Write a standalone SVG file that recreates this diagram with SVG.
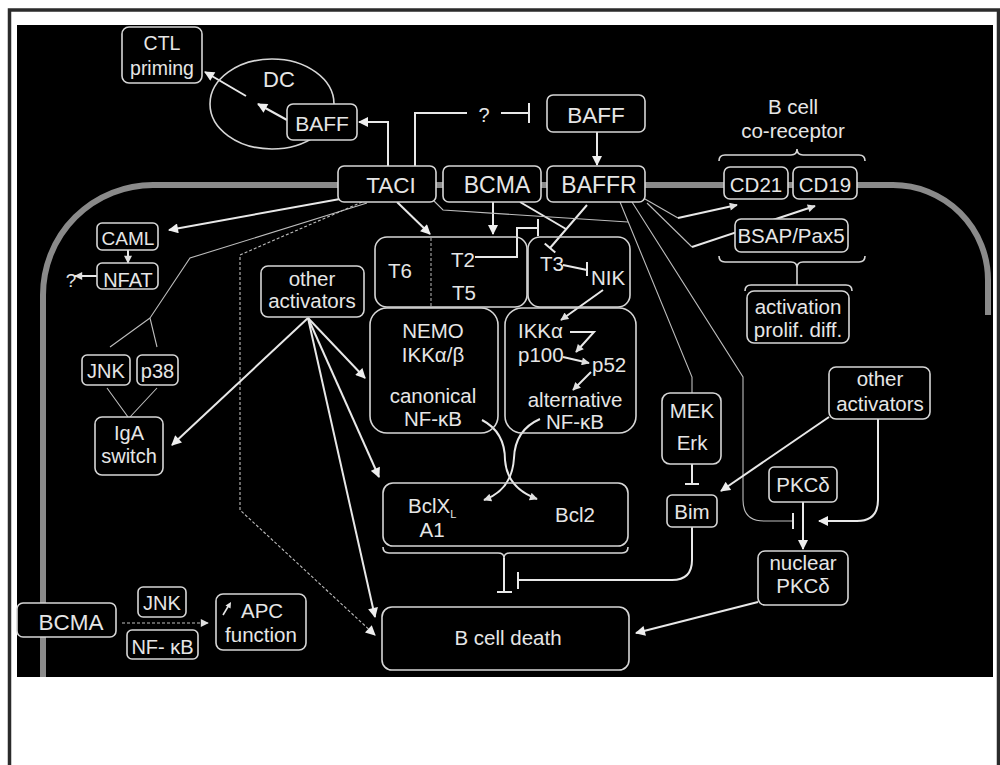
<svg xmlns="http://www.w3.org/2000/svg" width="1000" height="765" viewBox="0 0 1000 765">
<defs>
<style>
.t{font-family:"Liberation Sans",Arial,sans-serif;fill:#e6e6e6;text-anchor:middle;font-size:20.5px}
.ts{text-anchor:start}
.big{font-size:22.5px}
.box{fill:#000;stroke:#d6d6d6;stroke-width:1.6}
.open{fill:none}
.ln{fill:none;stroke:#e8e8e8;stroke-width:2}
.thin{fill:none;stroke:#bdbdbd;stroke-width:1.1}
.dash{fill:none;stroke:#bdbdbd;stroke-width:1.1;stroke-dasharray:3 2}
.brace{fill:none;stroke:#d6d6d6;stroke-width:1.6}
</style>
<marker id="ah" viewBox="0 0 10 10" refX="9" refY="5" markerWidth="11" markerHeight="10" markerUnits="userSpaceOnUse" orient="auto"><path d="M0,0 L10,5 L0,10 z" fill="#eeeeee"/></marker>
<marker id="ahs" viewBox="0 0 10 10" refX="9" refY="5" markerWidth="9" markerHeight="8" markerUnits="userSpaceOnUse" orient="auto"><path d="M0,0 L10,5 L0,10 z" fill="#e0e0e0"/></marker>
</defs>
<rect x="0" y="0" width="1000" height="765" fill="#ffffff"/>
<rect x="9.5" y="10" width="989" height="775" fill="none" stroke="#2b2b2b" stroke-width="3.5"/>
<rect x="17" y="25" width="976" height="652" fill="#000000"/>

<g id="membrane">
<path d="M 43 677 L 43 295 A 110 110 0 0 1 153 185 L 893 185 A 95 95 0 0 1 988 280 L 988 315" fill="none" stroke="#8a8a8a" stroke-width="6"/>
</g>

<g id="connectors">
<!-- DC internal -->
<path class="ln" d="M 287 120 L 258 104" marker-end="url(#ah)"/>
<path class="ln" d="M 246 96 L 205 72" marker-end="url(#ah)"/>
<!-- TACI to DC BAFF -->
<path class="ln" d="M 388 166 L 388 122 L 359 122" marker-end="url(#ah)"/>
<!-- ? inhibition -->
<path class="ln" d="M 415 166 L 415 113 L 467 113" stroke-width="1.8"/>
<path class="ln" d="M 501 113 L 529 113 M 529 103 L 529 123" stroke-width="1.8"/>
<!-- BAFF to BAFFR -->
<path class="ln" d="M 597 132 L 597 165" marker-end="url(#ah)"/>
<!-- TACI / BCMA to T box -->
<path class="ln" d="M 397 202 L 430 234" marker-end="url(#ah)"/>
<path class="ln" d="M 493 202 L 493 234" marker-end="url(#ah)"/>
<!-- T2 inhibition -->
<path class="ln" d="M 475 257 L 517 257 L 517 228 L 538 228 M 538 219 L 538 236" stroke-width="1.6"/>
<!-- BCMA line and BAFFR -| T3 -->
<path class="ln" d="M 520 202 L 566 229" stroke-width="1.5"/>
<path class="ln" d="M 587 205 L 550 248 M 544.7 243.4 L 555.3 252.6" stroke-width="1.6"/>
<!-- T3 -| NIK -->
<path class="ln" d="M 563 265 L 587 270 M 587 262 L 587 276" stroke-width="1.5"/>
<!-- NIK -> IKKa etc -->
<path class="ln" d="M 603 290 L 561 320" stroke-width="1.6" marker-end="url(#ahs)"/>
<path class="ln" d="M 570 332 L 594 332 L 576 352" stroke-width="1.6" marker-end="url(#ahs)"/>
<path class="ln" d="M 563 357 L 589 363" stroke-width="1.6" marker-end="url(#ahs)"/>
<path class="ln" d="M 591 372 L 573 390" stroke-width="1.6" marker-end="url(#ahs)"/>
<!-- crossing curves -->
<path class="ln" d="M 482 420 Q 505 432 505 460 Q 507 488 537 499" stroke-width="1.6" marker-end="url(#ahs)"/>
<path class="ln" d="M 540 419 Q 515 430 514 458 Q 512 490 484 500" stroke-width="1.6" marker-end="url(#ahs)"/>
<!-- TACI left lines -->
<path class="ln" d="M 340 199 L 169 230" marker-end="url(#ah)"/>
<path class="thin" d="M 367 203 L 190 258 L 150 318 M 150 318 L 110 347 M 150 318 L 157 347"/>
<path class="thin" d="M 107 388 L 128 417 M 157 388 L 130 417"/>
<path class="dash" d="M 362 202 L 240 255 L 240 510 L 375 635" marker-end="url(#ah)"/>
<!-- CAML / NFAT -->
<path class="ln" d="M 128 250 L 128 263" stroke-width="1.6" marker-end="url(#ahs)"/>
<path class="ln" d="M 97 276 L 75 276" stroke-width="1.6" marker-end="url(#ahs)"/>
<!-- other activators (left) -->
<path class="ln" d="M 308 318 L 172 445" marker-end="url(#ah)"/>
<path class="ln" d="M 308 318 L 365 378" marker-end="url(#ah)"/>
<path class="ln" d="M 308 318 L 379 477" marker-end="url(#ah)"/>
<path class="ln" d="M 308 318 L 375 617" marker-end="url(#ah)"/>
<!-- lines to the right -->
<path class="thin" d="M 433 200 L 443 210 L 628 222"/>
<path class="thin" d="M 620 202 L 692 377 L 692 393"/>
<path class="thin" d="M 632 202 L 743 377 L 743 500 Q 743 521 764 521 L 793 521"/>
<path class="ln" d="M 793 513 L 793 529" stroke-width="1.5"/>
<path class="thin" d="M 645 199 L 678 218"/>
<path class="ln" d="M 678 218 L 737 205" stroke-width="1.5" marker-end="url(#ahs)"/>
<path class="thin" d="M 647 203 L 692 247"/>
<path class="ln" d="M 692 247 L 815 206" stroke-width="1.5" marker-end="url(#ahs)"/>
<!-- braces -->
<path class="brace" d="M 719 161 Q 719 155 725 155 L 791 155 Q 797 155 797 149 Q 797 155 803 155 L 859 155 Q 865 155 865 161"/>
<path class="brace" d="M 719 256 Q 719 262 725 262 L 791 262 Q 797 262 797 268 Q 797 262 803 262 L 859 262 Q 865 262 865 256"/>
<path class="brace" d="M 797 268 L 797 285 M 745 291 Q 745 285 751 285 L 846 285 Q 852 285 852 291"/>
<path class="brace" d="M 383 547 Q 383 553 389 553 L 498 553 Q 504 553 504 558 Q 504 553 510 553 L 622 553 Q 628 553 628 547"/>
<!-- Bcl -| B cell death -->
<path class="ln" d="M 504 558 L 504 592 M 497 592 L 512 592" stroke-width="1.6"/>
<!-- MEK -| Bim ; Bim -| -->
<path class="ln" d="M 692 464 L 692 484 M 685 484 L 699 484" stroke-width="1.6"/>
<path class="ln" d="M 692 527 L 692 560 Q 692 580 672 580 L 518 580 M 518 572 L 518 589" stroke-width="1.6"/>
<!-- right other activators -->
<path class="ln" d="M 829 417 L 721 491" marker-end="url(#ah)"/>
<path class="ln" d="M 878 419 L 878 500 Q 878 521 857 521 L 819 521" marker-end="url(#ah)"/>
<path class="ln" d="M 803 502 L 803 549" marker-end="url(#ah)"/>
<path class="ln" d="M 758 602 L 636 633" marker-end="url(#ah)"/>
<!-- bottom-left BCMA -->
<path class="dash" d="M 122 623 L 208 623" stroke="#dddddd" stroke-width="1.5" marker-end="url(#ahs)"/>
</g>

<g id="CTL"><rect class="box" x="122" y="27" width="80" height="56" rx="7"/><text class="t" x="162" y="50" style="font-size:19.5px">CTL</text><text class="t" x="162" y="75" style="font-size:19.5px">priming</text></g>
<g id="DC"><ellipse cx="272" cy="104" rx="62" ry="45" fill="none" stroke="#d6d6d6" stroke-width="1.6"/><text class="t" x="279" y="87" style="font-size:22px">DC</text></g>
<g id="BAFF_DC"><rect class="box" x="287" y="104" width="70" height="36" rx="6"/><text class="t" x="322" y="131" style="font-size:21px">BAFF</text></g>
<g id="q_top"><text class="t" x="484" y="122" style="font-size:20px">?</text></g>
<g id="BAFF"><rect class="box" x="547" y="95" width="98" height="37" rx="6"/><text class="t big" x="596" y="123">BAFF</text></g>
<g id="TACI"><rect class="box" x="338" y="166" width="98" height="36" rx="6"/><text class="t big" x="391" y="193">TACI</text></g>
<g id="BCMA"><rect class="box" x="443" y="166" width="98" height="36" rx="6"/><text class="t big" x="497" y="193" style="font-size:23px">BCMA</text></g>
<g id="BAFFR"><rect class="box" x="547" y="166" width="98" height="36" rx="6"/><text class="t big" x="599" y="193" style="font-size:23px">BAFFR</text></g>
<g id="Bcell_label"><text class="t" x="793" y="114">B cell</text><text class="t" x="793" y="138">co-receptor</text></g>
<g id="CD21"><rect class="box" x="724" y="167" width="64" height="32" rx="6"/><text class="t" x="756" y="192">CD21</text></g>
<g id="CD19"><rect class="box" x="793" y="167" width="64" height="32" rx="6"/><text class="t" x="825" y="192">CD19</text></g>
<g id="BSAP"><rect class="box" x="735" y="219" width="113" height="33" rx="6"/><text class="t" x="791" y="243">BSAP/Pax5</text></g>
<g id="activation"><rect class="box" x="747" y="291" width="102" height="52" rx="7"/><text class="t" x="798" y="314">activation</text><text class="t" x="798" y="337">prolif. diff.</text></g>
<g id="CAML"><rect class="box" x="97" y="223" width="61" height="27" rx="5"/><text class="t" x="128" y="245" style="font-size:19px">CAML</text></g>
<g id="NFAT"><rect class="box" x="97" y="263" width="61" height="26" rx="5"/><text class="t" x="128" y="287" style="font-size:20px">NFAT</text></g>
<g id="q_left"><text class="t" x="71" y="287" style="font-size:19px">?</text></g>
<g id="JNK"><rect class="box" x="82" y="355" width="48" height="30" rx="5"/><text class="t" x="106" y="378" style="font-size:20px">JNK</text></g>
<g id="p38"><rect class="box" x="137" y="355" width="41" height="30" rx="5"/><text class="t" x="157.5" y="378" style="font-size:20px">p38</text></g>
<g id="IgA"><rect class="box" x="95" y="417" width="68" height="58" rx="7"/><text class="t" x="129" y="440" style="font-size:20px">IgA</text><text class="t" x="129" y="463" style="font-size:20px">switch</text></g>
<g id="other_left"><rect class="box" x="261" y="266" width="103" height="51" rx="7"/><text class="t" x="312" y="286">other</text><text class="t" x="312" y="308">activators</text></g>
<g id="T_box"><rect class="box open" x="375" y="237" width="152" height="70" rx="12"/><line x1="431" y1="238" x2="431" y2="306" stroke="#aaaaaa" stroke-width="1.1" stroke-dasharray="3 2"/><text class="t" x="400" y="278">T6</text><text class="t" x="463" y="267">T2</text><text class="t" x="464" y="300">T5</text></g>
<g id="T3_box"><rect class="box open" x="528" y="237" width="102" height="70" rx="12"/><text class="t" x="552" y="271">T3</text><text class="t" x="608" y="285">NIK</text></g>
<g id="NEMO"><rect class="box open" x="370" y="308" width="128" height="125" rx="17"/><text class="t" x="433" y="338">NEMO</text><text class="t" x="433" y="362">IKKα/β</text><text class="t" x="433" y="403">canonical</text><text class="t" x="433" y="426">NF-κB</text></g>
<g id="alternative"><rect class="box open" x="505" y="308" width="131" height="125" rx="17"/><text class="t ts" x="518" y="338">IKKα</text><text class="t ts" x="518" y="362">p100</text><text class="t ts" x="592" y="372">p52</text><text class="t" x="575" y="407">alternative</text><text class="t" x="575" y="429">NF-κB</text></g>
<g id="Bcl"><rect class="box open" x="383" y="483" width="245" height="63" rx="10"/><text class="t ts" x="408" y="513">BclX<tspan dy="5" style="font-size:11px">L</tspan></text><text class="t" x="432" y="537">A1</text><text class="t" x="575" y="522">Bcl2</text></g>
<g id="Bcell_death"><rect class="box" x="382" y="607" width="247" height="63" rx="10"/><text class="t" x="508" y="645">B cell death</text></g>
<g id="MEK"><rect class="box" x="662" y="393" width="59" height="71" rx="8"/><text class="t" x="692" y="418">MEK</text><text class="t" x="692" y="450">Erk</text></g>
<g id="Bim"><rect class="box" x="667" y="495" width="50" height="32" rx="5"/><text class="t" x="692" y="519">Bim</text></g>
<g id="other_right"><rect class="box" x="829" y="367" width="101" height="52" rx="7"/><text class="t" x="880" y="386">other</text><text class="t" x="880" y="411">activators</text></g>
<g id="PKCd"><rect class="box" x="769" y="467" width="68" height="35" rx="5"/><text class="t" x="803" y="492">PKCδ</text></g>
<g id="nuclear_PKCd"><rect class="box" x="758" y="551" width="90" height="54" rx="7"/><text class="t" x="803" y="570">nuclear</text><text class="t" x="803" y="593">PKCδ</text></g>
<g id="BCMA_bl"><rect class="box" x="17" y="603" width="99" height="34" rx="6"/><text class="t big" x="71" y="630">BCMA</text></g>
<g id="JNK_bl"><rect class="box" x="138" y="587" width="48" height="30" rx="5"/><text class="t" x="162" y="610" style="font-size:20px">JNK</text></g>
<g id="NFkB_bl"><rect class="box" x="127" y="630" width="71" height="29" rx="5"/><text class="t" x="162.5" y="654" style="font-size:20px">NF- κB</text></g>
<g id="APC"><rect class="box" x="216" y="594" width="90" height="56" rx="7"/><path d="M 223 615 L 229 605" stroke="#e6e6e6" stroke-width="1.6" fill="none"/><path d="M 231 602 L 225.5 605.5 L 230.5 608.5 z" fill="#e6e6e6"/><text class="t ts" x="241" y="618">APC</text><text class="t" x="261" y="642">function</text></g>
</svg>
